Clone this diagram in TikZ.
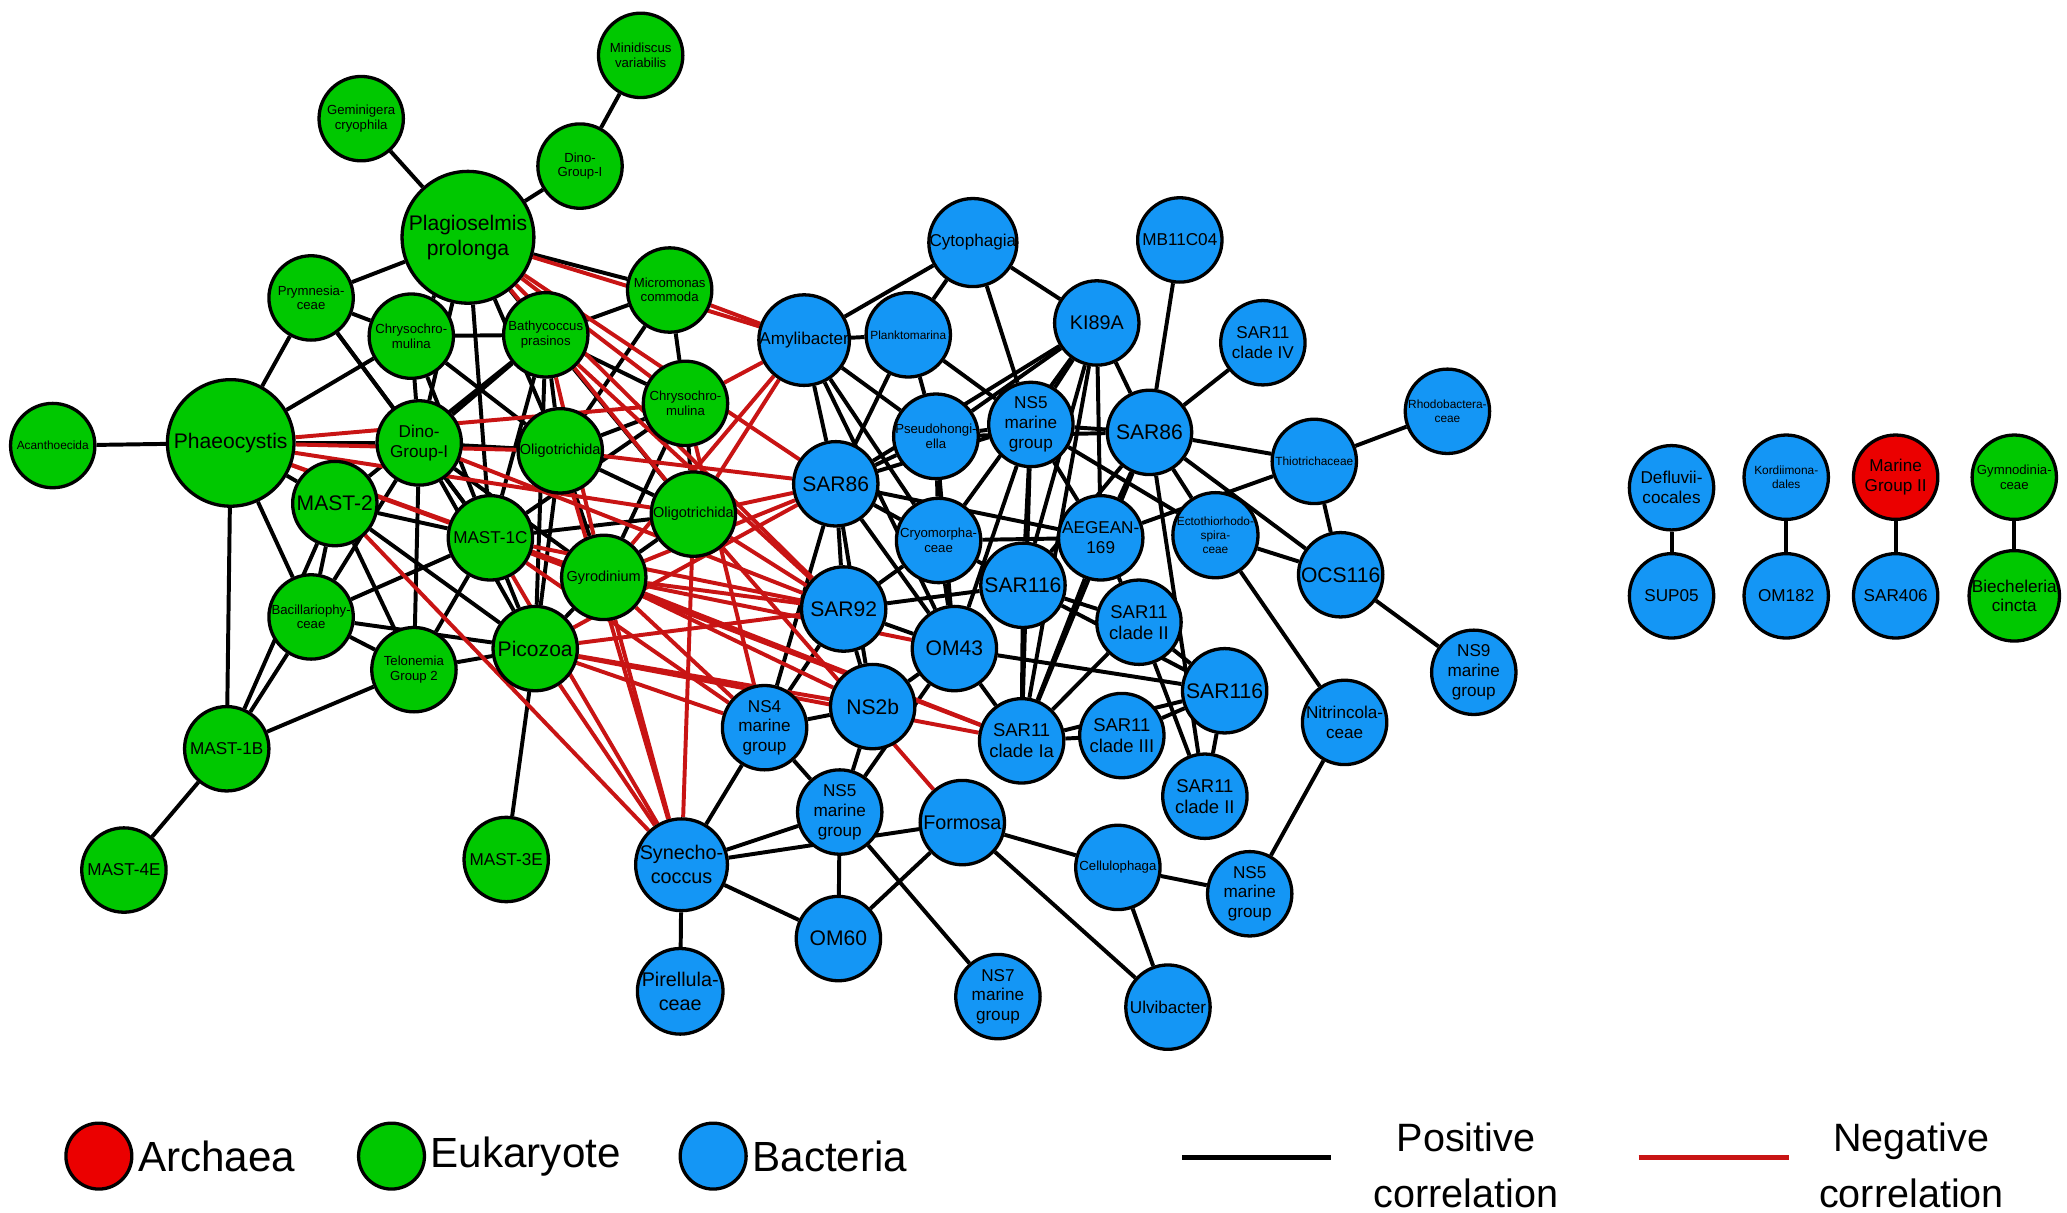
\documentclass[tikz,border=0pt]{standalone}
\usepackage{fontspec}
\setmainfont{Liberation Sans}
\usetikzlibrary{backgrounds}
\definecolor{eg}{RGB}{0,200,0}
\definecolor{bb}{RGB}{20,150,245}
\definecolor{ar}{RGB}{235,0,0}
\definecolor{ne}{RGB}{200,20,20}
\begin{document}
\begin{tikzpicture}[x=1pt,y=-1pt,
  nd/.style={circle,draw=black,line width=2.5pt,inner sep=0pt,minimum size=64pt,align=center,font=\fontsize{10}{11}\selectfont},
  euk/.style={nd,fill=eg},
  bac/.style={nd,fill=bb},
  arc/.style={nd,fill=ar},
  md/.style={font=\fontsize{13}{15}\selectfont},
  sm/.style={font=\fontsize{9}{10.5}\selectfont},
  posedge/.style={draw=black,line width=3pt},
  negedge/.style={draw=ne,line width=3pt}]
\useasboundingbox (0,0) rectangle (1568,920);
% eukaryotes
\node[euk] (MinVar) at (486,42) {Minidiscus\\variabilis};
\node[euk] (Gemin) at (274,90) {Geminigera\\cryophila};
\node[euk] (DinoT) at (440,126) {Dino-\\Group-I};
\node[euk,minimum size=100pt,font=\fontsize{16}{19}\selectfont] (Plag) at (355,180) {Plagioselmis\\prolonga};
\node[euk] (Prym) at (236,226) {Prymnesia-\\ceae};
\node[euk] (Chry1) at (312,255) {Chrysochro-\\mulina};
\node[euk] (Bathy) at (414,254) {Bathycoccus\\prasinos};
\node[euk] (Micro) at (508,220) {Micromonas\\commoda};
\node[euk] (Chry2) at (520,306) {Chrysochro-\\mulina};
\node[euk,sm] (Acanth) at (40,338) {Acanthoecida};
\node[euk,minimum size=96pt,font=\fontsize{16}{19}\selectfont] (Phaeo) at (175,336) {Phaeocystis};
\node[euk,md] (DinoI) at (318,336) {Dino-\\Group-I};
\node[euk,font=\fontsize{11}{13}\selectfont] (Oligo1) at (425,342) {Oligotrichida};
\node[euk,font=\fontsize{16}{19}\selectfont] (MAST2) at (254,382) {MAST-2};
\node[euk,md] (MAST1C) at (372,408) {MAST-1C};
\node[euk,font=\fontsize{11}{13}\selectfont] (Oligo2) at (526,390) {Oligotrichida};
\node[euk,font=\fontsize{11}{13}\selectfont] (Gyro) at (458,438) {Gyrodinium};
\node[euk] (Bacil) at (236,468) {Bacillariophy-\\ceae};
\node[euk] (Telo) at (314,508) {Telonemia\\Group 2};
\node[euk,font=\fontsize{16}{19}\selectfont] (Pico) at (406,492) {Picozoa};
\node[euk,md] (MAST1B) at (172,568) {MAST-1B};
\node[euk,md] (MAST4E) at (94,660) {MAST-4E};
\node[euk,md] (MAST3E) at (384,652) {MAST-3E};
% bacteria
\node[bac,md] (Cyto) at (738,184) {Cytophagia};
\node[bac,md] (MB11) at (895,182) {MB11C04};
\node[bac,font=\fontsize{15}{18}\selectfont] (KI89) at (832,245) {KI89A};
\node[bac,md] (SAR11IV) at (958,260) {SAR11\\clade IV};
\node[bac,md] (Amyl) at (610,258) {Amylibacter};
\node[bac,sm] (Plankt) at (689,254) {Planktomarina};
\node[bac,sm] (Rhodo) at (1098,312) {Rhodobactera-\\ceae};
\node[bac] (Pseudo) at (710,331) {Pseudohongi-\\ella};
\node[bac,md] (NS5a) at (782,322) {NS5\\marine\\group};
\node[bac,font=\fontsize{16}{19}\selectfont] (SAR86b) at (872,328) {SAR86};
\node[bac,sm] (Thio) at (997,350) {Thiotrichaceae};
\node[bac,font=\fontsize{16}{19}\selectfont] (SAR86a) at (634,367) {SAR86};
\node[bac,sm] (Ecto) at (922,406) {Ectothiorhodo-\\spira-\\ceae};
\node[bac,md] (AEGEAN) at (835,408) {AEGEAN-\\169};
\node[bac] (Cryo) at (712,410) {Cryomorpha-\\ceae};
\node[bac,font=\fontsize{16}{19}\selectfont] (OCS) at (1017,436) {OCS116};
\node[bac,font=\fontsize{16}{19}\selectfont] (SAR92) at (640,462) {SAR92};
\node[bac,font=\fontsize{16}{19}\selectfont] (SAR116a) at (776,444) {SAR116};
\node[bac,font=\fontsize{14}{16}\selectfont] (SAR11II) at (864,472) {SAR11\\clade II};
\node[bac,font=\fontsize{16}{19}\selectfont] (OM43) at (724,492) {OM43};
\node[bac,font=\fontsize{16}{19}\selectfont] (NS2b) at (662,536) {NS2b};
\node[bac,md] (NS4) at (580,552) {NS4\\marine\\group};
\node[bac,font=\fontsize{16}{19}\selectfont] (SAR116b) at (929,524) {SAR116};
\node[bac,font=\fontsize{14}{16}\selectfont] (SAR11Ia) at (775,562) {SAR11\\clade Ia};
\node[bac,font=\fontsize{14}{16}\selectfont] (SAR11III) at (851,558) {SAR11\\clade III};
\node[bac,font=\fontsize{14}{16}\selectfont] (SAR11IIb) at (914,604) {SAR11\\clade II};
\node[bac,md] (Nitr) at (1020,548) {Nitrincola-\\ceae};
\node[bac,md] (NS9) at (1118,510) {NS9\\marine\\group};
\node[bac,md] (NS5b) at (637,616) {NS5\\marine\\group};
\node[bac,font=\fontsize{15}{18}\selectfont] (Formosa) at (730,624) {Formosa};
\node[bac,font=\fontsize{15}{18}\selectfont] (Syne) at (517,656) {Synecho-\\coccus};
\node[bac] (Cellulo) at (848,658) {Cellulophaga};
\node[bac,md] (NS5c) at (948,678) {NS5\\marine\\group};
\node[bac,font=\fontsize{16}{19}\selectfont] (OM60) at (636,712) {OM60};
\node[bac,font=\fontsize{15}{18}\selectfont] (Pirell) at (516,752) {Pirellula-\\ceae};
\node[bac,md] (NS7) at (757,756) {NS7\\marine\\group};
\node[bac,md] (Ulvi) at (886,764) {Ulvibacter};
% pairs
\node[bac,md] (Defl) at (1268,370) {Defluvii-\\cocales};
\node[bac,md] (SUP05) at (1268,452) {SUP05};
\node[bac,sm] (Kord) at (1355,362) {Kordiimona-\\dales};
\node[bac,md] (OM182) at (1355,452) {OM182};
\node[arc,md] (MarII) at (1438,362) {Marine\\Group II};
\node[bac,md] (SAR406) at (1438,452) {SAR406};
\node[euk] (Gymno) at (1528,362) {Gymnodinia-\\ceae};
\node[euk,md] (Biech) at (1528,452) {Biecheleria\\cincta};
\begin{scope}[on background layer]
\foreach \a/\b in {MinVar/DinoT,DinoT/Plag,Gemin/Plag,Acanth/Phaeo,Phaeo/Prym,Phaeo/Chry1,Phaeo/DinoI,Phaeo/MAST2,Phaeo/Bacil,Phaeo/MAST1B,Prym/Plag,Prym/Chry1,Prym/DinoI,Prym/MAST1C,Plag/Chry1,Plag/Bathy,Plag/Micro,Plag/DinoI,Plag/MAST1C,Plag/Oligo1,Chry1/Bathy,Chry1/DinoI,Chry1/MAST1C,Chry1/Oligo1,Bathy/DinoI,Bathy/MAST1C,Bathy/Oligo1,Bathy/Chry2,Bathy/Oligo2,Bathy/Pico,Bathy/MAST2,Micro/Chry2,Micro/Oligo1,Micro/Bathy,Chry2/Oligo1,Chry2/Gyro,Chry2/MAST1C,DinoI/MAST1C,DinoI/Oligo1,DinoI/Bacil,DinoI/Telo,DinoI/Gyro,DinoI/Pico,MAST2/Bacil,MAST2/MAST1C,MAST2/Telo,MAST2/Pico,MAST1C/Oligo2,MAST1C/Gyro,MAST1C/Pico,MAST1C/Bacil,MAST1C/Telo,Oligo1/Oligo2,Oligo1/Gyro,Oligo1/Pico,Oligo2/Gyro,Gyro/Pico,Bacil/Telo,Bacil/Pico,Bacil/MAST1B,Telo/Pico,Telo/MAST1B,MAST1B/MAST4E,MAST1B/MAST2,Pico/MAST3E,Oligo2/Chry2,
Cyto/Amyl,Cyto/Plankt,Cyto/KI89,Cyto/NS5a,Amyl/Plankt,Amyl/SAR86a,Amyl/Pseudo,Amyl/Cryo,Amyl/OM43,Plankt/SAR86a,Plankt/Pseudo,Plankt/NS5a,KI89/SAR86a,KI89/Pseudo,KI89/NS5a,KI89/SAR86b,KI89/AEGEAN,KI89/SAR116a,KI89/SAR11Ia,KI89/Cryo,MB11/SAR86b,SAR11IV/SAR86b,SAR86a/Pseudo,SAR86a/NS5a,SAR86a/AEGEAN,SAR86a/SAR92,SAR86a/NS4,SAR86a/OM43,SAR86a/Cryo,SAR86a/NS2b,Pseudo/NS5a,Pseudo/Cryo,Pseudo/OM43,NS5a/SAR86b,NS5a/SAR116a,NS5a/AEGEAN,NS5a/SAR11Ia,NS5a/OM43,NS5a/Ecto,SAR86b/Thio,SAR86b/AEGEAN,SAR86b/Ecto,SAR86b/OCS,SAR86b/SAR11Ia,SAR86b/SAR11IIb,SAR86b/SAR116a,SAR86b/Pseudo,Thio/Rhodo,Thio/OCS,Thio/AEGEAN,Ecto/OCS,Ecto/Nitr,OCS/NS9,AEGEAN/SAR11Ia,AEGEAN/SAR11II,AEGEAN/Cryo,Cryo/SAR116a,Cryo/OM43,Cryo/SAR92,SAR92/SAR116a,SAR92/NS2b,SAR92/NS4,SAR92/OM43,SAR116a/SAR11Ia,SAR116a/SAR11II,SAR116a/SAR116b,SAR11II/SAR11Ia,SAR11II/SAR116b,SAR11II/SAR11IIb,OM43/SAR11Ia,OM43/NS2b,OM43/SAR116b,OM43/NS5b,SAR11Ia/SAR11III,SAR11III/SAR116b,SAR116b/SAR11IIb,NS2b/NS4,NS2b/NS5b,NS4/Syne,NS4/NS5b,NS5b/OM60,NS5b/NS7,NS5b/Syne,Syne/Formosa,Syne/OM60,Syne/Pirell,Formosa/OM60,Formosa/Cellulo,Formosa/Ulvi,Cellulo/Ulvi,Cellulo/NS5c,NS5c/Nitr,SAR11Ia/SAR116b,
Defl/SUP05,Kord/OM182,MarII/SAR406,Gymno/Biech}
  \draw[posedge] (\a) -- (\b);
\foreach \a/\b in {Plag/Amyl,Plag/Chry2,Plag/Oligo2,Plag/SAR86a,Plag/SAR92,Micro/Amyl,Phaeo/Chry2,Phaeo/Oligo1,Phaeo/Oligo2,Phaeo/Gyro,Phaeo/MAST1C,DinoI/SAR92,Bathy/Gyro,Bathy/SAR92,Chry2/Amyl,Oligo1/SAR86a,Oligo2/Amyl,Oligo2/SAR86a,Oligo2/SAR92,Gyro/Amyl,Gyro/SAR86a,Gyro/SAR92,Gyro/NS4,Gyro/NS2b,Gyro/SAR11Ia,Gyro/Syne,Gyro/OM43,MAST1C/SAR92,MAST1C/NS4,MAST1C/Syne,MAST1C/SAR11Ia,Pico/Syne,Pico/NS4,Pico/SAR92,Pico/SAR86a,Pico/NS2b,MAST2/Syne,Oligo1/Syne,Oligo2/Syne,Chry2/NS4,Oligo2/Formosa,Pico/SAR11Ia}
  \draw[negedge] (\a) -- (\b);
\end{scope}
% legend
\tikzset{lg/.style={circle,draw=black,line width=2.5pt,minimum size=50pt,inner sep=0pt},
 lt/.style={anchor=west,font=\fontsize{32}{36}\selectfont}}
\node[lg,fill=ar] (L1) at (75,877) {};
\node[lt] (T1) at (L1.east) {Archaea};
\node[lg,fill=eg] (L2) at (297,877) {};
\node[lt] (T2) at (L2.east) {Eukaryote};
\node[lg,fill=bb] (L3) at (541,877) {};
\node[lt] (T3) at (L3.east) {Bacteria};
\coordinate (p1) at (897,878); \coordinate (p2) at (1010,878);
\draw[line width=3.5pt] (p1) -- (p2);
\node[align=center,font=\fontsize{30}{42}\selectfont] (PT) at (1112,884) {Positive\\correlation};
\coordinate (n1) at (1243,878); \coordinate (n2) at (1357,878);
\draw[ne,line width=3.5pt] (n1) -- (n2);
\node[align=center,font=\fontsize{30}{42}\selectfont] (NT) at (1450,884) {Negative\\correlation};
\end{tikzpicture}
\end{document}
